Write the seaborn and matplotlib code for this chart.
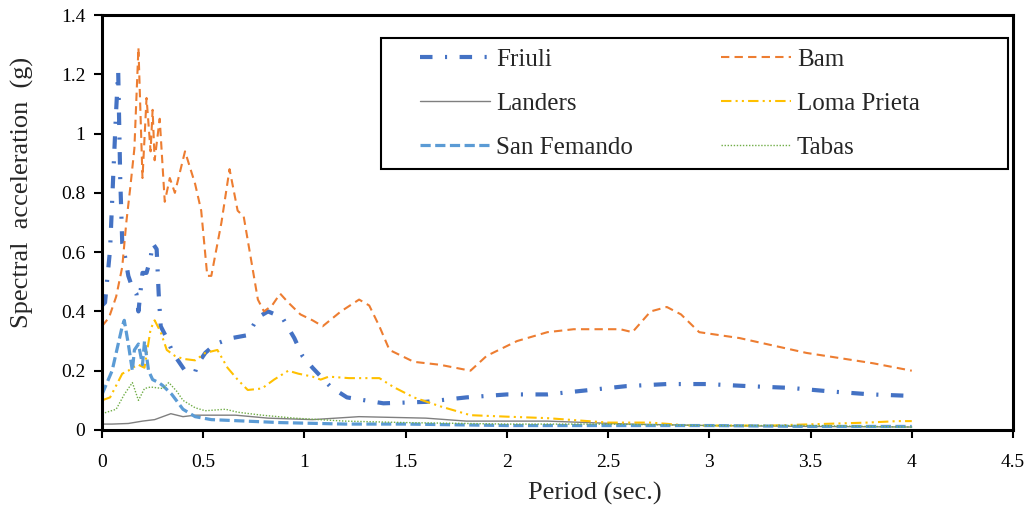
import matplotlib
matplotlib.use("Agg")
import matplotlib.pyplot as plt
from matplotlib.patches import Rectangle
import seaborn as sns
import pandas as pd

# ---------------- data ----------------
friuli_t = [0, 0.015, 0.04, 0.055, 0.07, 0.08, 0.09, 0.10, 0.11, 0.13, 0.15, 0.17, 0.18, 0.20, 0.22,
            0.24, 0.25, 0.27, 0.28, 0.29, 0.32, 0.35, 0.41, 0.46, 0.47, 0.51, 0.56, 0.64, 0.72, 0.77,
            0.82, 0.89, 0.95, 0.99, 1.04, 1.13, 1.21, 1.39, 1.6, 1.8, 2.0, 2.2, 2.41, 2.59, 2.79,
            2.99, 3.19, 3.4, 3.6, 3.8, 4.0]
friuli_sa = [0.42, 0.43, 0.61, 0.85, 1.08, 1.21, 0.85, 0.63, 0.60, 0.52, 0.48, 0.46, 0.40, 0.53, 0.53,
             0.58, 0.63, 0.61, 0.46, 0.35, 0.31, 0.26, 0.20, 0.195, 0.22, 0.26, 0.29, 0.31, 0.32, 0.38,
             0.40, 0.38, 0.31, 0.25, 0.21, 0.145, 0.11, 0.09, 0.095, 0.11, 0.12, 0.12, 0.135, 0.148, 0.155,
             0.155, 0.148, 0.142, 0.13, 0.12, 0.115]

bam_t = [0, 0.035, 0.07, 0.10, 0.12, 0.14, 0.16, 0.18, 0.20, 0.22, 0.24, 0.25, 0.26, 0.285, 0.31,
         0.335, 0.36, 0.41, 0.46, 0.49, 0.52, 0.54, 0.59, 0.63, 0.67, 0.70, 0.77, 0.80, 0.84, 0.88,
         0.92, 0.98, 1.04, 1.09, 1.18, 1.27, 1.32, 1.37, 1.42, 1.54, 1.67, 1.82, 1.90, 2.05, 2.2,
         2.33, 2.56, 2.62, 2.71, 2.79, 2.86, 2.95, 3.15, 3.48, 3.81, 4.0]
bam_sa = [0.35, 0.38, 0.45, 0.55, 0.70, 0.82, 0.95, 1.29, 0.85, 1.12, 0.94, 1.08, 0.91, 1.05, 0.77,
          0.85, 0.80, 0.94, 0.83, 0.74, 0.52, 0.52, 0.70, 0.88, 0.74, 0.72, 0.44, 0.40, 0.42, 0.46,
          0.43, 0.39, 0.37, 0.35, 0.40, 0.44, 0.42, 0.35, 0.27, 0.23, 0.22, 0.20, 0.25, 0.30, 0.33,
          0.34, 0.34, 0.33, 0.40, 0.415, 0.39, 0.33, 0.31, 0.26, 0.225, 0.20]

landers_t = [0, 0.05, 0.13, 0.2, 0.26, 0.34, 0.40, 0.46, 0.55, 0.66, 0.82, 1.04, 1.27, 1.6, 1.8,
             2.2, 2.6, 3.0, 3.5, 4.0]
landers_sa = [0.02, 0.02, 0.022, 0.03, 0.035, 0.055, 0.045, 0.05, 0.05, 0.05, 0.04, 0.035, 0.045,
              0.04, 0.03, 0.03, 0.02, 0.015, 0.012, 0.01]

loma_t = [0, 0.04, 0.10, 0.13, 0.15, 0.18, 0.21, 0.24, 0.26, 0.29, 0.32, 0.36, 0.40, 0.46, 0.51,
          0.57, 0.62, 0.67, 0.72, 0.79, 0.85, 0.92, 0.97, 1.04, 1.08, 1.12, 1.22, 1.37, 1.44, 1.54,
          1.67, 1.82, 2.0, 2.2, 2.5, 2.71, 2.9, 3.3, 3.78, 3.93, 4.0]
loma_sa = [0.10, 0.11, 0.19, 0.20, 0.21, 0.22, 0.21, 0.34, 0.37, 0.33, 0.27, 0.25, 0.24, 0.235, 0.26,
           0.27, 0.21, 0.17, 0.135, 0.14, 0.17, 0.20, 0.19, 0.18, 0.17, 0.18, 0.175, 0.175, 0.145, 0.11,
           0.08, 0.05, 0.045, 0.04, 0.025, 0.025, 0.015, 0.015, 0.025, 0.03, 0.03]

sanfer_t = [0, 0.05, 0.08, 0.10, 0.11, 0.13, 0.15, 0.16, 0.18, 0.20, 0.21, 0.23, 0.25, 0.28, 0.30,
            0.345, 0.40, 0.46, 0.54, 0.71, 0.88, 1.2, 1.5, 2.0, 2.5, 3.0, 3.5, 4.0]
sanfer_sa = [0.12, 0.20, 0.29, 0.35, 0.37, 0.29, 0.20, 0.27, 0.29, 0.22, 0.30, 0.20, 0.17, 0.16, 0.15,
             0.12, 0.07, 0.045, 0.035, 0.03, 0.025, 0.02, 0.02, 0.015, 0.015, 0.015, 0.012, 0.012]

tabas_t = [0, 0.07, 0.11, 0.15, 0.18, 0.21, 0.24, 0.30, 0.33, 0.37, 0.40, 0.46, 0.51, 0.61, 0.67,
           0.79, 0.95, 1.2, 1.5, 2.0, 2.5, 3.0, 3.5, 4.0]
tabas_sa = [0.055, 0.07, 0.12, 0.16, 0.10, 0.14, 0.145, 0.14, 0.16, 0.13, 0.10, 0.075, 0.065, 0.07,
            0.06, 0.05, 0.04, 0.03, 0.025, 0.02, 0.02, 0.015, 0.015, 0.01]

x_ticks = [0, 0.5, 1, 1.5, 2, 2.5, 3, 3.5, 4, 4.5]
x_tick_labels = ["0", "0.5", "1", "1.5", "2", "2.5", "3", "3.5", "4", "4.5"]
y_ticks = [0, 0.2, 0.4, 0.6, 0.8, 1.0, 1.2, 1.4]
y_tick_labels = ["0", "0.2", "0.4", "0.6", "0.8", "1", "1.2", "1.4"]

# ---------------- styling ----------------
sns.set_style("white")
plt.rcParams["font.family"] = ["Liberation Serif", "DejaVu Serif"]

series = [
    ("Friuli", friuli_t, friuli_sa, dict(color="#4472C4", lw=3.0, dashes=(3, 3, 0.5, 3))),
    ("Bam", bam_t, bam_sa, dict(color="#ED7D31", lw=1.5, dashes=(4, 2.5))),
    ("Landers", landers_t, landers_sa, dict(color="#7F7F7F", lw=1.0, dashes=None)),
    ("Loma Prieta", loma_t, loma_sa, dict(color="#FFC000", lw=1.5, dashes=(5, 2, 1, 2, 1, 2))),
    ("San Femando", sanfer_t, sanfer_sa, dict(color="#5B9BD5", lw=2.3, dashes=(3.2, 1.4))),
    ("Tabas", tabas_t, tabas_sa, dict(color="#70AD47", lw=1.0, dashes=(1, 1.2))),
]

fig = plt.figure(figsize=(10.28, 5.08), dpi=100)
ax = fig.add_axes([102 / 1028, 1 - 430 / 508, 911 / 1028, 415 / 508])

handles = {}
for name, t, sa, st in series:
    df = pd.DataFrame({"t": t, "sa": sa})
    sns.lineplot(data=df, x="t", y="sa", ax=ax, color=st["color"], linewidth=st["lw"],
                 label=name, legend=False)
    line = ax.lines[-1]
    if st["dashes"] is not None:
        line.set_dashes(st["dashes"])
    line.set_dash_capstyle("butt")
    handles[name] = line

ax.set_xlim(0, 4.5)
ax.set_ylim(0, 1.4)
ax.set_xticks(x_ticks)
ax.set_xticklabels(x_tick_labels)
ax.set_yticks(y_ticks)
ax.set_yticklabels(y_tick_labels)
ax.tick_params(axis="both", which="major", direction="out", length=6, width=1.5,
               labelsize=14, colors="#000000", bottom=True, left=True)
ax.tick_params(axis="x", pad=11)
ax.tick_params(axis="y", pad=6)
for sp in ax.spines.values():
    sp.set_visible(True)
    sp.set_color("#000000")
    sp.set_linewidth(2.2)

ax.set_xlabel("Period (sec.)", fontsize=19)
ax.xaxis.set_label_coords((595 - 102) / 911, -(493 - 430) / 415, transform=ax.transAxes)
ax.xaxis.label.set_va("center")
ax.set_ylabel("Spectral  acceleration  (g)", fontsize=19)
ax.yaxis.set_label_coords(-(102 - 22) / 911, (430 - 192) / 415, transform=ax.transAxes)
ax.yaxis.label.set_va("center")

# legend: row-wise order (Friuli, Bam / Landers, Loma Prieta / San Femando, Tabas)
order = ["Friuli", "Landers", "San Femando", "Bam", "Loma Prieta", "Tabas"]
leg = ax.legend(handles=[handles[n] for n in order], labels=order, ncol=2,
                loc="upper left", bbox_to_anchor=((420 - 102) / 911, (430 - 48) / 415),
                frameon=False, fontsize=18, handlelength=2.8,
                labelspacing=0.86, borderpad=0, handletextpad=0.25,
                columnspacing=3.5, borderaxespad=0)
frame = Rectangle(((381 - 102) / 911, (430 - 169) / 415), (1008 - 381) / 911, (169 - 38) / 415,
                  transform=ax.transAxes, fill=True, facecolor="white", edgecolor="#000000",
                  linewidth=1.5, zorder=4.9)
ax.add_patch(frame)
leg.set_zorder(5)

fig.savefig("out.png", dpi=100)
